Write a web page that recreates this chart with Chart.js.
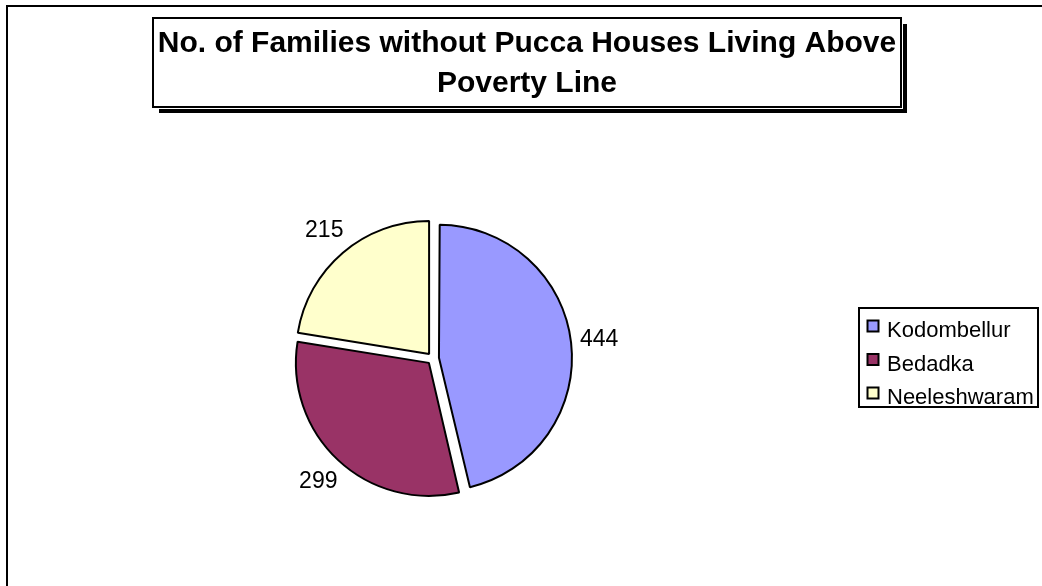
<!DOCTYPE html>
<html>
<head>
<meta charset="utf-8">
<title>No. of Families without Pucca Houses Living Above Poverty Line</title>
<script src="https://cdn.jsdelivr.net/npm/chart.js@4/dist/chart.umd.min.js"></script>
<style>
  html, body { margin: 0; padding: 0; background: #fff; }
  canvas { display: block; }
</style>
</head>
<body>
<canvas id="povertyPie" width="1042" height="586"></canvas>
<script>
const panchayats = ['Kodombellur', 'Bedadka', 'Neeleshwaram'];
const families = [444, 299, 215];
const sliceColors = ['#9999FF', '#993366', '#FFFFCC'];
const titleLines = ['No. of Families without Pucca Houses Living Above', 'Poverty Line'];

const PIE_RADIUS = 133;
const EXPLODE = 24; // chart.js shifts each arc by offset / 4
const FONT = '"Liberation Sans", Arial, sans-serif';

// white page, outer frame, boxed title with shadow, legend box
const frame = {
  id: 'frame',
  beforeDraw(chart) {
    const ctx = chart.ctx;
    ctx.save();
    ctx.fillStyle = '#fff';
    ctx.fillRect(0, 0, chart.width, chart.height);
    ctx.strokeStyle = '#000';
    ctx.lineWidth = 2;
    ctx.strokeRect(7, 6, chart.width + 20, chart.height + 20);

    const bx = 153, by = 18, bw = 748, bh = 89;
    ctx.fillStyle = '#000';
    ctx.fillRect(bx + 6, by + 6, bw, bh);
    ctx.fillStyle = '#fff';
    ctx.fillRect(bx - 1, by - 1, bw + 3, bh + 3);
    ctx.strokeRect(bx, by, bw, bh);

    ctx.fillStyle = '#000';
    ctx.font = 'bold 30px ' + FONT;
    ctx.textAlign = 'center';
    ctx.textBaseline = 'alphabetic';
    ctx.fillText(titleLines[0], bx + bw / 2, 52);
    ctx.fillText(titleLines[1], bx + bw / 2, 92);

    // legend
    ctx.strokeRect(859, 308, 179, 99);
    ctx.font = '22px ' + FONT;
    ctx.textAlign = 'left';
    const colors = chart.data.datasets[0].backgroundColor;
    chart.data.labels.forEach((name, i) => {
      const top = 321 + i * 33.5;
      ctx.fillStyle = colors[i];
      ctx.fillRect(867.5, top - 0.5, 11, 11);
      ctx.strokeRect(867.5, top - 0.5, 11, 11);
      ctx.fillStyle = '#000';
      ctx.fillText(name, 887, top + 16);
    });
    ctx.restore();
  },
  beforeDatasetsDraw(chart) {
    // keep exploded slices at the same radius
    const shift = EXPLODE / 4;
    chart.getDatasetMeta(0).data.forEach(arc => {
      const sweep = arc.endAngle - arc.startAngle;
      arc.outerRadius = PIE_RADIUS - shift * (1 - Math.sin(Math.min(Math.PI, sweep)));
    });
  },
  afterDatasetsDraw(chart) {
    const ctx = chart.ctx;
    const values = chart.data.datasets[0].data;
    ctx.save();
    ctx.fillStyle = '#000';
    ctx.font = '23px ' + FONT;
    ctx.textAlign = 'center';
    ctx.textBaseline = 'middle';
    chart.getDatasetMeta(0).data.forEach((arc, i) => {
      const mid = (arc.startAngle + arc.endAngle) / 2;
      const dx = Math.cos(mid), dy = Math.sin(mid);
      const text = String(values[i]);
      const hw = ctx.measureText(text).width / 2, hh = 11;
      const dist = PIE_RADIUS + EXPLODE / 4 + 8 + Math.abs(dx) * hw + Math.abs(dy) * hh;
      ctx.fillText(text, arc.x + dx * dist, arc.y + dy * dist);
    });
    ctx.restore();
  }
};

new Chart(document.getElementById('povertyPie'), {
  type: 'pie',
  data: {
    labels: panchayats,
    datasets: [{
      data: families,
      backgroundColor: sliceColors,
      borderColor: '#000',
      borderWidth: 2,
      offset: EXPLODE,
      hoverOffset: 0
    }]
  },
  options: {
    responsive: false,
    animation: false,
    events: [],
    radius: PIE_RADIUS,
    layout: {
      padding: { left: 300, right: 476, top: 225, bottom: 94 }
    },
    plugins: {
      legend: { display: false },
      tooltip: { enabled: false },
      title: { display: false }
    }
  },
  plugins: [frame]
});
</script>
</body>
</html>
